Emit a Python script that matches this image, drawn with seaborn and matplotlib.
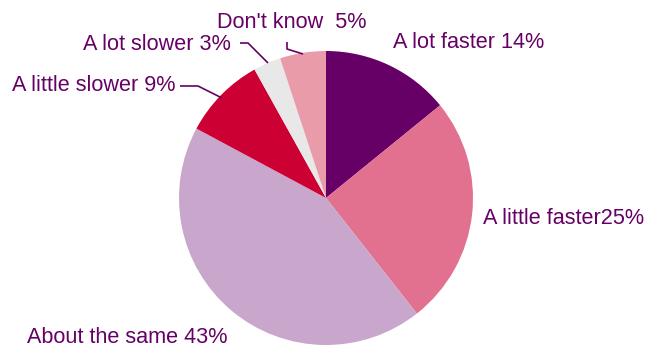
import matplotlib
matplotlib.use('Agg')
import matplotlib.pyplot as plt
import seaborn as sns

sns.set_style('white')
plt.rcParams['font.family'] = ['Liberation Sans', 'DejaVu Sans']

# survey answers, clockwise from the top
labels = ['A lot faster 14%', 'A little faster25%', 'About the same 43%',
          'A little slower 9%', 'A lot slower 3%', "Don't know  5%"]
values = [14, 25, 43, 9, 3, 5]
colors = ['#660066', '#E2718F', '#C9A6CB', '#CC0033', '#E8E8E8', '#E99BAA']
txt_col = '#660066'

W, H = 648, 349
fig = plt.figure(figsize=(W / 100, H / 100), dpi=100)
ax = fig.add_axes([0, 0, 1, 1])

ax.pie(values, colors=colors, startangle=90, counterclock=False,
       center=(326, H - 198), radius=147,
       wedgeprops=dict(linewidth=0))

# pie() resets the limits, so set them afterwards
ax.set_xlim(0, W)
ax.set_ylim(0, H)
ax.set_aspect('equal')
ax.axis('off')

# label spots in picture pixels (left x, baseline y)
spots = [(393, 48), (483, 224), (27, 343), (12, 91), (83, 50), (217, 28)]
for lab, (x, y) in zip(labels, spots):
    ax.text(x, H - y, lab, ha='left', va='baseline', fontsize=15.6, color=txt_col)

# leader lines
leaders = [
    [(180, 86), (198, 86), (222, 98)],
    [(240, 43), (248, 43), (268, 63)],
    [(287, 42), (287, 49), (303, 54)],
]
for pts in leaders:
    xs = [p[0] for p in pts]
    ys = [H - p[1] for p in pts]
    ax.plot(xs, ys, color=txt_col, lw=1.2, solid_capstyle='butt')

fig.savefig('out.png', dpi=100)
